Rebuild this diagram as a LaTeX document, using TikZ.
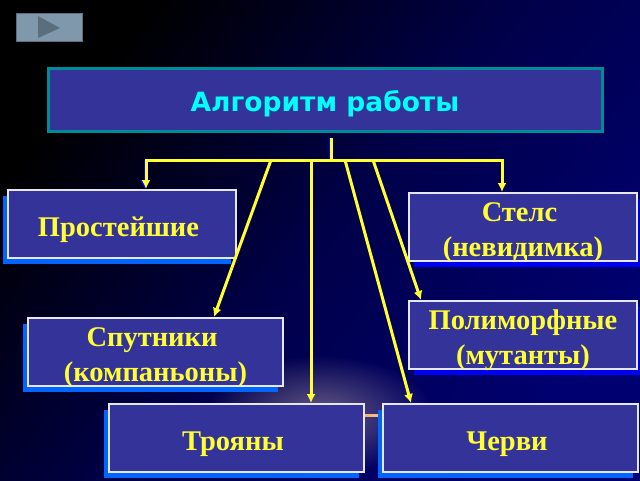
\documentclass[tikz,border=0pt]{standalone}
\usepackage{fontspec}
\setmainfont{Liberation Serif}
\newfontfamily\headfont{DejaVu Sans}
\usepackage{xcolor}
\usetikzlibrary{arrows.meta,calc,shadows,fadings}
\definecolor{boxfill}{HTML}{333399}
\definecolor{boxtext}{HTML}{FFFF33}
\definecolor{headtext}{HTML}{00FFFF}
\definecolor{headline}{HTML}{008C96}
\definecolor{shadeleft}{HTML}{0066FF}
\definecolor{shaderight}{HTML}{0000F0}
\definecolor{bgright}{HTML}{000070}
\definecolor{buttonfill}{HTML}{7F98AB}
\definecolor{buttonmark}{HTML}{5A6E7E}
\tikzfading[name=glowfade, inner color=transparent!60, outer color=transparent!100]
\newcommand{\tailgap}{\kern7pt}
\begin{document}
\begin{tikzpicture}[x=1pt, y=-1pt,
block/.style = {draw=white!88!boxfill, fill=boxfill, line width=2pt, rectangle, text=boxtext, align=center,
    minimum height=68pt, font=\bfseries\fontsize{28.5}{35}\selectfont, inner sep=0pt},
small/.style = {block, minimum width=228pt},
wide/.style = {block, minimum width=255pt},
oneline/.style = {text height=24pt, text depth=0pt},
twoline/.style = {text height=59pt, text depth=0pt},
leftshade/.style = {drop shadow={shadow xshift=-5.5pt, shadow yshift=-5.5pt, fill=shadeleft, opacity=1}},
rightshade/.style = {drop shadow={shadow xshift=5pt, shadow yshift=-5.5pt, fill=shaderight, opacity=1}},
link/.style = {draw=boxtext, line width=3pt},
edged/.style = {preaction={draw=blue, transform canvas={xshift=-1.5pt}}},
>={Latex[length=9pt,width=9pt]}
]

    \useasboundingbox (0,0) rectangle (640,480);

    % background
    \shade [left color=black, right color=bgright, middle color=bgright!65!black, shading angle=50] (0,0) rectangle (640,480);
    \fill [white!80!orange, path fading=glowfade] (320,415) ellipse (115 and 60);
    \shade [left color=bgright!60!black, right color=orange!50!white] (100,414) rectangle (382,416);

    % button
    \node [draw=buttonmark, fill=buttonfill, minimum width=66pt, minimum height=28pt, inner sep=0pt] (button) at (49,27) {};
    \fill [buttonmark] ($(button.center)+(-11,-11)$) -- ($(button.center)+(11,1)$) -- ($(button.center)+(-11,11)$) -- cycle;

    \node [draw=headline, fill=boxfill, line width=3pt, minimum width=554pt, minimum height=63pt, text=headtext,
        text height=23pt, text depth=0pt, font=\headfont\bfseries\fontsize{26.5}{30}\selectfont] (main) at (325,99.5) {Алгоритм работы};

    \node [small, oneline, leftshade] (simple) at (122,224) {Простейшие\tailgap};
    \node [small, twoline, rightshade] (stels) at (523,227) {Стелс\tailgap\\(невидимка)};
    \node [small, twoline, rightshade, below of=stels, node distance=108pt] (poly) {Полиморфные\\(мутанты)};
    \node [wide, twoline, leftshade] (sput) at (155.5,352) {Спутники\tailgap\\(компаньоны)};
    \node [wide, oneline, leftshade] (troy) at (236.5,438) {Трояны\tailgap};
    \node [wide, oneline, leftshade, right of=troy, node distance=274pt] (worm) {Черви\tailgap};

    \coordinate (top) at (331,138);
    \coordinate (bus) at (331,160);
    \coordinate (busleft) at (146,160);
    \coordinate (busright) at (502,160);
    \coordinate (fork1) at (271,160);
    \coordinate (fork2) at (311,160);
    \coordinate (fork3) at (345,160);
    \coordinate (fork4) at (373,160);

    \draw [link, edged] (top) -- (bus);
    \draw [link, edged, ->] (busleft) -- (simple.north -| busleft);
    \draw [link, ->] (busright) -- (stels.north -| busright);
    \draw [link] ($(busleft)+(-1.5,0)$) -- ($(busright)+(1.5,0)$);

    \draw [link, ->] (fork1) -- ($(sput.north)+(58.5,0)$);
    \draw [link, ->] (fork2) -- (troy.north -| fork2);
    \draw [link, ->] (fork3) -- ($(worm.north)+(-99.5,0)$);
    \draw [link, ->] (fork4) -- ($(poly.north)+(-102,0)$);

\end{tikzpicture}
\end{document}
